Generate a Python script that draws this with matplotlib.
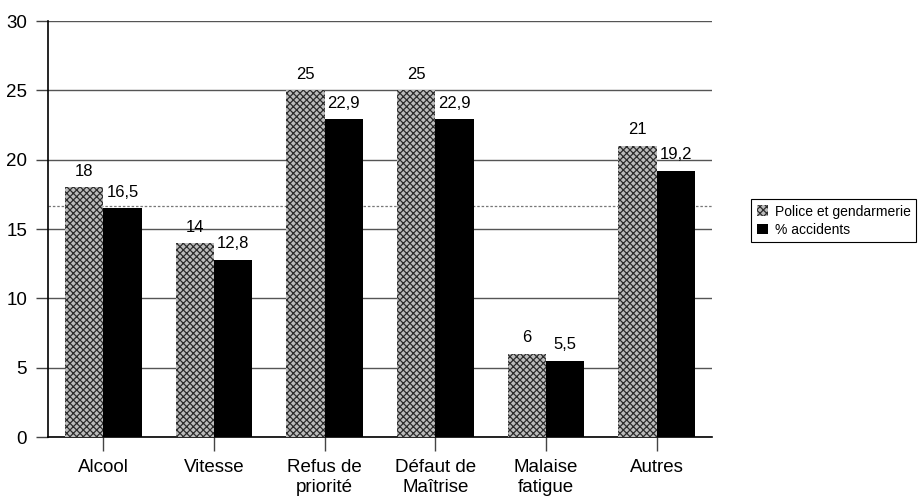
import matplotlib
matplotlib.use("Agg")
import matplotlib.pyplot as plt
import numpy as np

categories = ["Alcool", "Vitesse", "Refus de\npriorité", "Défaut de\nMaîtrise", "Malaise\nfatigue", "Autres"]
police = [18, 14, 25, 25, 6, 21]
accidents = [16.5, 12.8, 22.9, 22.9, 5.5, 19.2]
police_labels = ["18", "14", "25", "25", "6", "21"]
accident_labels = ["16,5", "12,8", "22,9", "22,9", "5,5", "19,2"]
yticks = [0, 5, 10, 15, 20, 25, 30]
series_names = ["Police et gendarmerie", "% accidents"]

plt.rcParams['font.family'] = ['Liberation Sans', 'DejaVu Sans']
plt.rcParams['hatch.linewidth'] = 0.9

fig = plt.figure(figsize=(9.21, 5.03), dpi=100)
ax = fig.add_axes([48/921, 1-437/503, (712-48)/921, (437-21)/503])

x = np.arange(len(categories))
w = 0.345
b1 = ax.bar(x - w/2, police, w, facecolor='#bdbdbd', edgecolor='#2e2e2e',
            hatch='xxxxx', linewidth=0, zorder=3, label=series_names[0])
b2 = ax.bar(x + w/2, accidents, w, color='black', zorder=3, label=series_names[1])

for xi, v, lab in zip(x - w/2, police, police_labels):
    ax.annotate(lab, (xi, v), xytext=(0, 6), textcoords='offset points',
                ha='center', va='bottom', fontsize=12)
for xi, v, lab in zip(x + w/2, accidents, accident_labels):
    ax.annotate(lab, (xi, v), xytext=(0, 6), textcoords='offset points',
                ha='center', va='bottom', fontsize=12)

ax.set_xlim(-0.5, len(categories) - 0.5)
ax.set_ylim(0, 30)
ax.set_yticks(yticks)
ax.set_xticks(x)
ax.set_xticklabels(categories, fontsize=13.5)
ax.tick_params(axis='y', labelsize=13.5, length=9, width=1, color='#444', pad=6)
ax.tick_params(axis='x', length=10, width=1, color='#444', pad=6)

ax.grid(axis='y', color='#555555', linewidth=1, zorder=0)
ax.set_axisbelow(True)
mean_val = np.mean(accidents)
ax.axhline(mean_val, color='#777777', linewidth=0.9, linestyle=(0, (2, 1.5)), zorder=1)

for s in ['top', 'right']:
    ax.spines[s].set_visible(False)
ax.spines['left'].set_linewidth(1.2)
ax.spines['bottom'].set_linewidth(1.2)

leg = fig.legend(handles=[b1, b2], labels=series_names, loc='upper left',
                 bbox_to_anchor=(751/921, 1-199/503), fontsize=10,
                 frameon=True, fancybox=False, framealpha=1, edgecolor='black',
                 handlelength=0.8, handleheight=0.8, handletextpad=0.5,
                 borderpad=0.4, labelspacing=0.3, borderaxespad=0)
leg.get_frame().set_linewidth(0.8)

fig.savefig("out.png", dpi=100)
